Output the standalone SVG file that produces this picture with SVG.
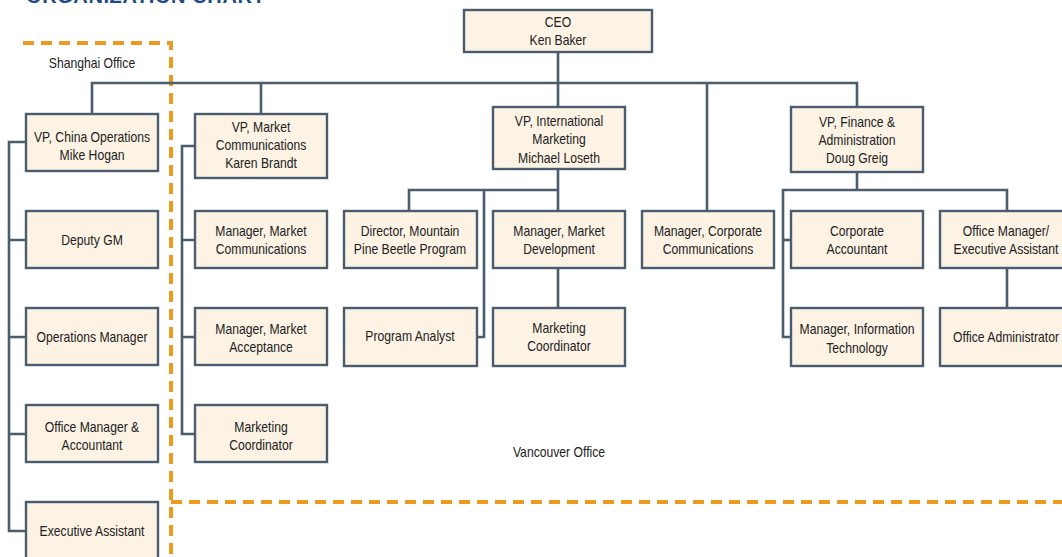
<svg xmlns="http://www.w3.org/2000/svg" width="1062" height="557" viewBox="0 0 1062 557">
  <style>
    .box { fill: #FCF3E5; stroke: #4A5D6E; stroke-width: 2.4; }
    .wire { fill: none; stroke: #4A5D6E; stroke-width: 2.6; }
    .office { fill: none; stroke: #EC9B1F; stroke-width: 4; stroke-dasharray: 11 7; }
    text { font-family: "Liberation Sans", Arial, sans-serif; font-size: 14.5px; fill: #222; text-anchor: middle; }
    .title { font-size: 20px; font-weight: bold; fill: #1C4A86; text-anchor: start; letter-spacing: 0.6px; }
  </style>

  <!-- labels are set in a narrowed sans: each line is translated to its centre and squeezed to 84% width -->
  <text class="title" x="26" y="3">ORGANIZATION CHART</text>

  <!-- office boundaries -->
  <g id="offices">
    <path class="office" d="M23 43 H171 V557"/>
    <path class="office" d="M171 502 H1062"/>
    <text transform="translate(92 68) scale(0.84 1)">Shanghai Office</text>
    <text transform="translate(559 457) scale(0.84 1)">Vancouver Office</text>
  </g>

  <!-- reporting lines -->
  <g id="connectors">
    <path class="wire" d="M558 52 V107"/>
    <path class="wire" d="M92 114 V83 H857 V107"/>
    <path class="wire" d="M261 83 V114"/>
    <path class="wire" d="M707 83 V211"/>
    <!-- Shanghai -->
    <path class="wire" d="M26 142 H9 V531 H26"/>
    <path class="wire" d="M9 240 H26 M9 337 H26 M9 434 H26"/>
    <!-- Market Communications -->
    <path class="wire" d="M195 146 H182 V434 H195"/>
    <path class="wire" d="M182 240 H195 M182 337 H195"/>
    <!-- International Marketing -->
    <path class="wire" d="M558 169 V211"/>
    <path class="wire" d="M409 211 V190 H558"/>
    <path class="wire" d="M484 190 V337 H477"/>
    <path class="wire" d="M558 268 V308"/>
    <!-- Finance -->
    <path class="wire" d="M857 172 V190"/>
    <path class="wire" d="M1007 211 V190 H783 V337 H791"/>
    <path class="wire" d="M783 240 H791"/>
    <path class="wire" d="M1007 268 V308"/>
  </g>

  <g id="ceo">
    <rect class="box" x="464" y="10" width="188" height="42"/>
    <text transform="translate(558 27) scale(0.84 1)">CEO</text>
    <text transform="translate(558 45) scale(0.84 1)">Ken Baker</text>
  </g>

  <!-- Shanghai column -->
  <g id="vp-china">
    <rect class="box" x="26" y="114" width="132" height="57"/>
    <text transform="translate(92 142) scale(0.84 1)">VP, China Operations</text>
    <text transform="translate(92 160) scale(0.84 1)">Mike Hogan</text>
  </g>
  <g id="deputy-gm">
    <rect class="box" x="26" y="211" width="132" height="57"/>
    <text transform="translate(92 245) scale(0.84 1)">Deputy GM</text>
  </g>
  <g id="operations-manager">
    <rect class="box" x="26" y="308" width="132" height="57"/>
    <text transform="translate(92 342) scale(0.84 1)">Operations Manager</text>
  </g>
  <g id="office-manager-accountant">
    <rect class="box" x="26" y="405" width="132" height="57"/>
    <text transform="translate(92 432) scale(0.84 1)">Office Manager &amp;</text>
    <text transform="translate(92 450) scale(0.84 1)">Accountant</text>
  </g>
  <g id="executive-assistant">
    <rect class="box" x="26" y="502" width="132" height="70"/>
    <text transform="translate(92 536) scale(0.84 1)">Executive Assistant</text>
  </g>

  <!-- Market Communications column -->
  <g id="vp-market-comm">
    <rect class="box" x="195" y="114" width="132" height="64"/>
    <text transform="translate(261 132) scale(0.84 1)">VP, Market</text>
    <text transform="translate(261 150) scale(0.84 1)">Communications</text>
    <text transform="translate(261 168) scale(0.84 1)">Karen Brandt</text>
  </g>
  <g id="mgr-market-comm">
    <rect class="box" x="195" y="211" width="132" height="57"/>
    <text transform="translate(261 236) scale(0.84 1)">Manager, Market</text>
    <text transform="translate(261 254) scale(0.84 1)">Communications</text>
  </g>
  <g id="mgr-market-acceptance">
    <rect class="box" x="195" y="308" width="132" height="57"/>
    <text transform="translate(261 334) scale(0.84 1)">Manager, Market</text>
    <text transform="translate(261 352) scale(0.84 1)">Acceptance</text>
  </g>
  <g id="marketing-coordinator-1">
    <rect class="box" x="195" y="405" width="132" height="57"/>
    <text transform="translate(261 432) scale(0.84 1)">Marketing</text>
    <text transform="translate(261 450) scale(0.84 1)">Coordinator</text>
  </g>

  <!-- International Marketing -->
  <g id="vp-intl-marketing">
    <rect class="box" x="493" y="107" width="132" height="62"/>
    <text transform="translate(559 126) scale(0.84 1)">VP, International</text>
    <text transform="translate(559 144) scale(0.84 1)">Marketing</text>
    <text transform="translate(559 163) scale(0.84 1)">Michael Loseth</text>
  </g>
  <g id="director-mpb">
    <rect class="box" x="344" y="211" width="133" height="57"/>
    <text transform="translate(410 236) scale(0.84 1)">Director, Mountain</text>
    <text transform="translate(410 254) scale(0.84 1)">Pine Beetle Program</text>
  </g>
  <g id="program-analyst">
    <rect class="box" x="344" y="308" width="133" height="58"/>
    <text transform="translate(410 341) scale(0.84 1)">Program Analyst</text>
  </g>
  <g id="mgr-market-dev">
    <rect class="box" x="493" y="211" width="132" height="57"/>
    <text transform="translate(559 236) scale(0.84 1)">Manager, Market</text>
    <text transform="translate(559 254) scale(0.84 1)">Development</text>
  </g>
  <g id="marketing-coordinator-2">
    <rect class="box" x="493" y="308" width="132" height="58"/>
    <text transform="translate(559 333) scale(0.84 1)">Marketing</text>
    <text transform="translate(559 351) scale(0.84 1)">Coordinator</text>
  </g>

  <g id="mgr-corp-comm">
    <rect class="box" x="642" y="211" width="132" height="57"/>
    <text transform="translate(708 236) scale(0.84 1)">Manager, Corporate</text>
    <text transform="translate(708 254) scale(0.84 1)">Communications</text>
  </g>

  <!-- Finance & Administration -->
  <g id="vp-finance">
    <rect class="box" x="791" y="107" width="132" height="65"/>
    <text transform="translate(857 127) scale(0.84 1)">VP, Finance &amp;</text>
    <text transform="translate(857 145) scale(0.84 1)">Administration</text>
    <text transform="translate(857 163) scale(0.84 1)">Doug Greig</text>
  </g>
  <g id="corporate-accountant">
    <rect class="box" x="791" y="211" width="132" height="57"/>
    <text transform="translate(857 236) scale(0.84 1)">Corporate</text>
    <text transform="translate(857 254) scale(0.84 1)">Accountant</text>
  </g>
  <g id="mgr-it">
    <rect class="box" x="791" y="308" width="132" height="58"/>
    <text transform="translate(857 334) scale(0.84 1)">Manager, Information</text>
    <text transform="translate(857 353) scale(0.84 1)">Technology</text>
  </g>
  <g id="office-manager-ea">
    <rect class="box" x="940" y="211" width="132" height="57"/>
    <text transform="translate(1006 236) scale(0.84 1)">Office Manager/</text>
    <text transform="translate(1006 254) scale(0.84 1)">Executive Assistant</text>
  </g>
  <g id="office-administrator">
    <rect class="box" x="940" y="308" width="132" height="58"/>
    <text transform="translate(1006 342) scale(0.84 1)">Office Administrator</text>
  </g>
</svg>
